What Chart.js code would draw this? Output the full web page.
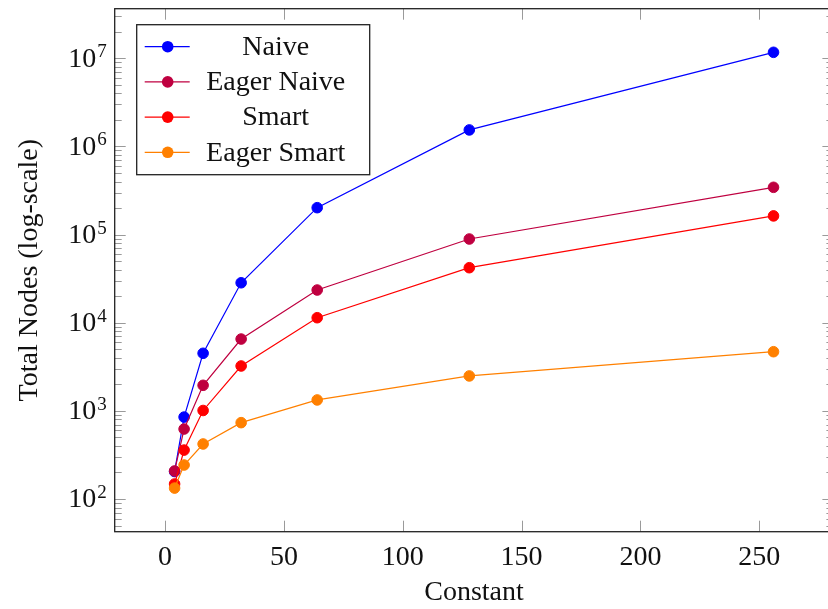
<!DOCTYPE html>
<html>
<head>
<meta charset="utf-8">
<script src="https://cdn.jsdelivr.net/npm/chart.js@4.4.0/dist/chart.umd.min.js"></script>
<style>
  html, body { margin: 0; padding: 0; background: #fff; overflow: hidden; }
</style>
</head>
<body>
<canvas id="nodesChart" width="840" height="609"></canvas>
<script>
// data
const constants = [4, 8, 16, 32, 64, 128, 256];
const naive = [205, 850, 4500, 28400, 202000, 1540000, 11700000];
const eagerNaive = [208, 622, 1950, 6530, 23500, 89100, 344000];
const smart = [148, 359, 1010, 3230, 11400, 42100, 163000];
const eagerSmart = [133, 243, 421, 735, 1330, 2490, 4690];

const seriesNames = ["Naive", "Eager Naive", "Smart", "Eager Smart"];
const seriesColors = ["#0000ff", "#bf0040", "#ff0000", "#ff8000"];
const xTicks = [0, 50, 100, 150, 200, 250];
const yExponents = [2, 3, 4, 5, 6, 7];

const serif = "'Liberation Serif', 'DejaVu Serif', serif";

function points(values) {
  return constants.map((c, i) => ({x: c, y: values[i]}));
}

let allSeries = [naive, eagerNaive, smart, eagerSmart];
let datasets = allSeries.map((vals, i) => ({
  label: seriesNames[i],
  data: points(vals),
  borderColor: seriesColors[i],
  backgroundColor: seriesColors[i],
  borderWidth: 1.2,
  pointRadius: 5.3,
  pointBorderWidth: 1,
  pointHoverRadius: 5.3,
  tension: 0,
  order: allSeries.length - i   // later series drawn on top
}));

// frame, inward ticks, y labels with exponents and the legend box
const axisDecor = {
  id: "axisDecor",
  afterDraw(chart) {
    const ctx = chart.ctx;
    const area = chart.chartArea;
    const xs = chart.scales.x;
    const ys = chart.scales.y;
    ctx.save();

    // ticks
    ctx.strokeStyle = "#9a9a9a";
    ctx.lineWidth = 1;
    ctx.beginPath();
    xTicks.forEach(v => {
      const px = Math.round(xs.getPixelForValue(v)) + 0.5;
      ctx.moveTo(px, area.bottom); ctx.lineTo(px, area.bottom - 11);
      ctx.moveTo(px, area.top); ctx.lineTo(px, area.top + 11);
    });
    for (let e = 1; e <= 7; e++) {
      for (let k = 1; k <= 9; k++) {
        const v = k * Math.pow(10, e);
        if (v < ys.min || v > ys.max) continue;
        const py = Math.round(ys.getPixelForValue(v)) + 0.5;
        const len = k === 1 ? 11 : 7;
        ctx.moveTo(area.left, py); ctx.lineTo(area.left + len, py);
        ctx.moveTo(area.right, py); ctx.lineTo(area.right - len, py);
      }
    }
    ctx.stroke();

    // frame
    ctx.strokeStyle = "#222";
    ctx.lineWidth = 1.3;
    ctx.strokeRect(area.left, area.top, area.right - area.left, area.bottom - area.top);

    // y labels 10^n
    ctx.fillStyle = "#111";
    yExponents.forEach(e => {
      const py = ys.getPixelForValue(Math.pow(10, e));
      ctx.font = "28px " + serif;
      ctx.textAlign = "right";
      ctx.textBaseline = "middle";
      ctx.fillText("10", area.left - 18.5, py + 1);
      ctx.font = "19px " + serif;
      ctx.textAlign = "left";
      ctx.textBaseline = "alphabetic";
      ctx.fillText(String(e), area.left - 17.5, py - 1);
    });

    // legend
    const lx = area.left + 22, ly = area.top + 16;
    const lw = 233, lh = 150;
    ctx.fillStyle = "#fff";
    ctx.fillRect(lx, ly, lw, lh);
    ctx.strokeStyle = "#222";
    ctx.lineWidth = 1.3;
    ctx.strokeRect(lx, ly, lw, lh);
    chart.data.datasets.forEach((ds, i) => {
      const ry = ly + 22 + i * 35.2;
      ctx.strokeStyle = ds.borderColor;
      ctx.lineWidth = 1.2;
      ctx.beginPath();
      ctx.moveTo(lx + 8, ry); ctx.lineTo(lx + 53, ry);
      ctx.stroke();
      ctx.fillStyle = ds.backgroundColor;
      ctx.beginPath();
      ctx.arc(lx + 31, ry, 5.8, 0, Math.PI * 2);
      ctx.fill();
      ctx.fillStyle = "#111";
      ctx.font = "28px " + serif;
      ctx.textAlign = "center";
      ctx.textBaseline = "middle";
      ctx.fillText(ds.label, lx + 139, ry + 1);
    });
    ctx.restore();
  }
};

let ctx2d = document.getElementById("nodesChart").getContext("2d");
let nodesChart = new Chart(ctx2d, {
  type: "line",
  data: { datasets: datasets },
  options: {
    responsive: false,
    animation: false,
    layout: { padding: { top: 8.7, right: 6.6, left: 0, bottom: 0 } },
    plugins: { legend: { display: false }, tooltip: { enabled: false } },
    scales: {
      x: {
        type: "linear",
        min: -21.2,
        max: 281.2,
        afterBuildTicks: s => { s.ticks = xTicks.map(v => ({value: v})); },
        afterFit: s => { s.height = 77.3; },
        grid: { display: false, drawTicks: false },
        border: { display: false },
        ticks: { color: "#111", font: { family: serif, size: 28 }, padding: 9, maxRotation: 0 },
        title: { display: true, text: "Constant", color: "#111",
                 font: { family: serif, size: 28 }, padding: { top: 0, bottom: 0 } }
      },
      y: {
        type: "logarithmic",
        min: Math.pow(10, 1.629),
        max: Math.pow(10, 7.563),
        afterFit: s => { s.width = 114.7; },
        grid: { display: false, drawTicks: false },
        border: { display: false },
        ticks: { display: false },
        title: { display: true, text: "Total Nodes (log-scale)", color: "#111",
                 font: { family: serif, size: 28 }, padding: { top: 13, bottom: 0 } }
      }
    }
  },
  plugins: [axisDecor]
});
</script>
</body>
</html>
